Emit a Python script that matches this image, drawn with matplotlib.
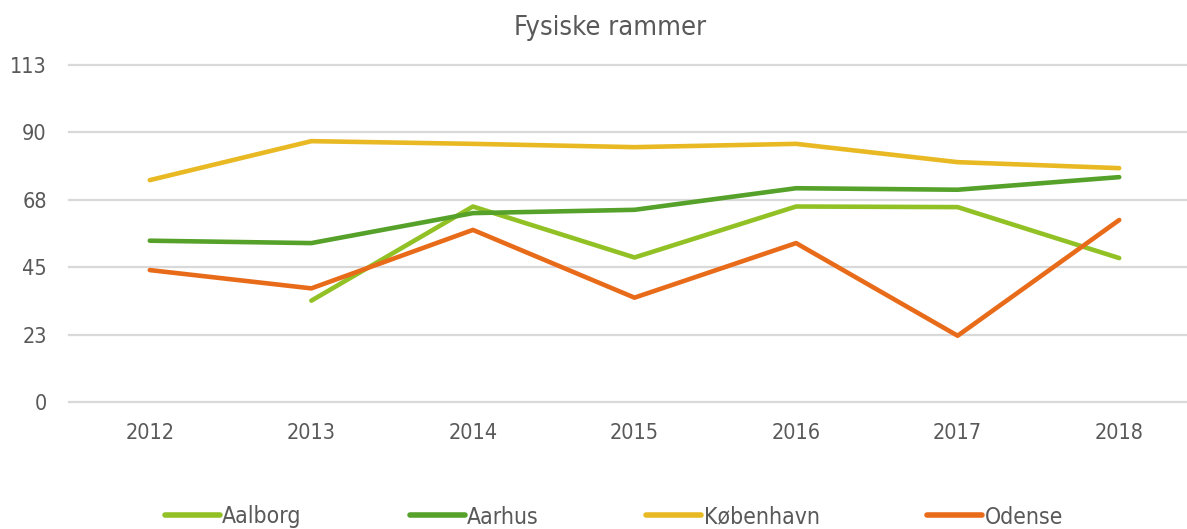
import numpy as np
import matplotlib
matplotlib.use("Agg")
import matplotlib.pyplot as plt

years = ["2012", "2013", "2014", "2015", "2016", "2017", "2018"]
aalborg = [np.nan, 33.9, 65.3, 48.3, 65.3, 65.1, 48.1]
aarhus = [53.9, 53.1, 63.1, 64.2, 71.4, 70.9, 75.1]
kobenhavn = [74.1, 87.1, 86.2, 85.1, 86.2, 80.1, 78.1]
odense = [44.1, 38.0, 57.5, 34.9, 53.1, 22.2, 60.8]
series_names = ["Aalborg", "Aarhus", "København", "Odense"]
colors = ["#92C125", "#55A12A", "#E8B923", "#E86B1A"]
yticks = [0, 22.5, 45, 67.5, 90, 112.5]
ytick_labels = ["0", "23", "45", "68", "90", "113"]
title = "Fysiske rammer"

plt.rcParams['font.family'] = ['DejaVu Sans']
plt.rcParams['font.stretch'] = 'condensed'
txt_color = "#595959"

fig = plt.figure(figsize=(11.87, 5.29), dpi=100)
ax = fig.add_axes([69/1187, (529-402.3)/529, (1200-69)/1187, (402.3-65)/529])

x = np.arange(len(years))
for name, vals, c in zip(series_names, [aalborg, aarhus, kobenhavn, odense], colors):
    ax.plot(x, vals, color=c, lw=3.3, solid_capstyle='round', solid_joinstyle='round', label=name)

ax.set_xlim(-0.5, len(years) - 0.5)
ax.set_ylim(0, 112.5)
ax.set_yticks(yticks)
ax.set_yticklabels(ytick_labels)
ax.set_xticks(x)
ax.set_xticklabels(years)
ax.yaxis.grid(True, color="#D9D9D9", lw=1.6)
for gl in ax.get_ygridlines():
    gl.set_clip_on(False)
ax.set_axisbelow(True)
for s in ax.spines.values():
    s.set_visible(False)
ax.tick_params(axis='both', length=0, colors=txt_color, labelsize=15.5)
ax.tick_params(axis='y', pad=16)
ax.tick_params(axis='x', pad=15)

fig.text(610/1187, 1 - 28/529, title, ha='center', va='center', fontsize=19.5, color=txt_color)

leg = fig.legend(loc='center', bbox_to_anchor=(614/1187, 1 - 517/529), ncol=4, frameon=False,
                 fontsize=16.5, handlelength=2.4, handletextpad=0.1, columnspacing=4.7,
                 labelcolor=txt_color)
for h in leg.get_lines():
    h.set_linewidth(4)
    h.set_solid_capstyle('round')

fig.savefig("out.png", dpi=100)
